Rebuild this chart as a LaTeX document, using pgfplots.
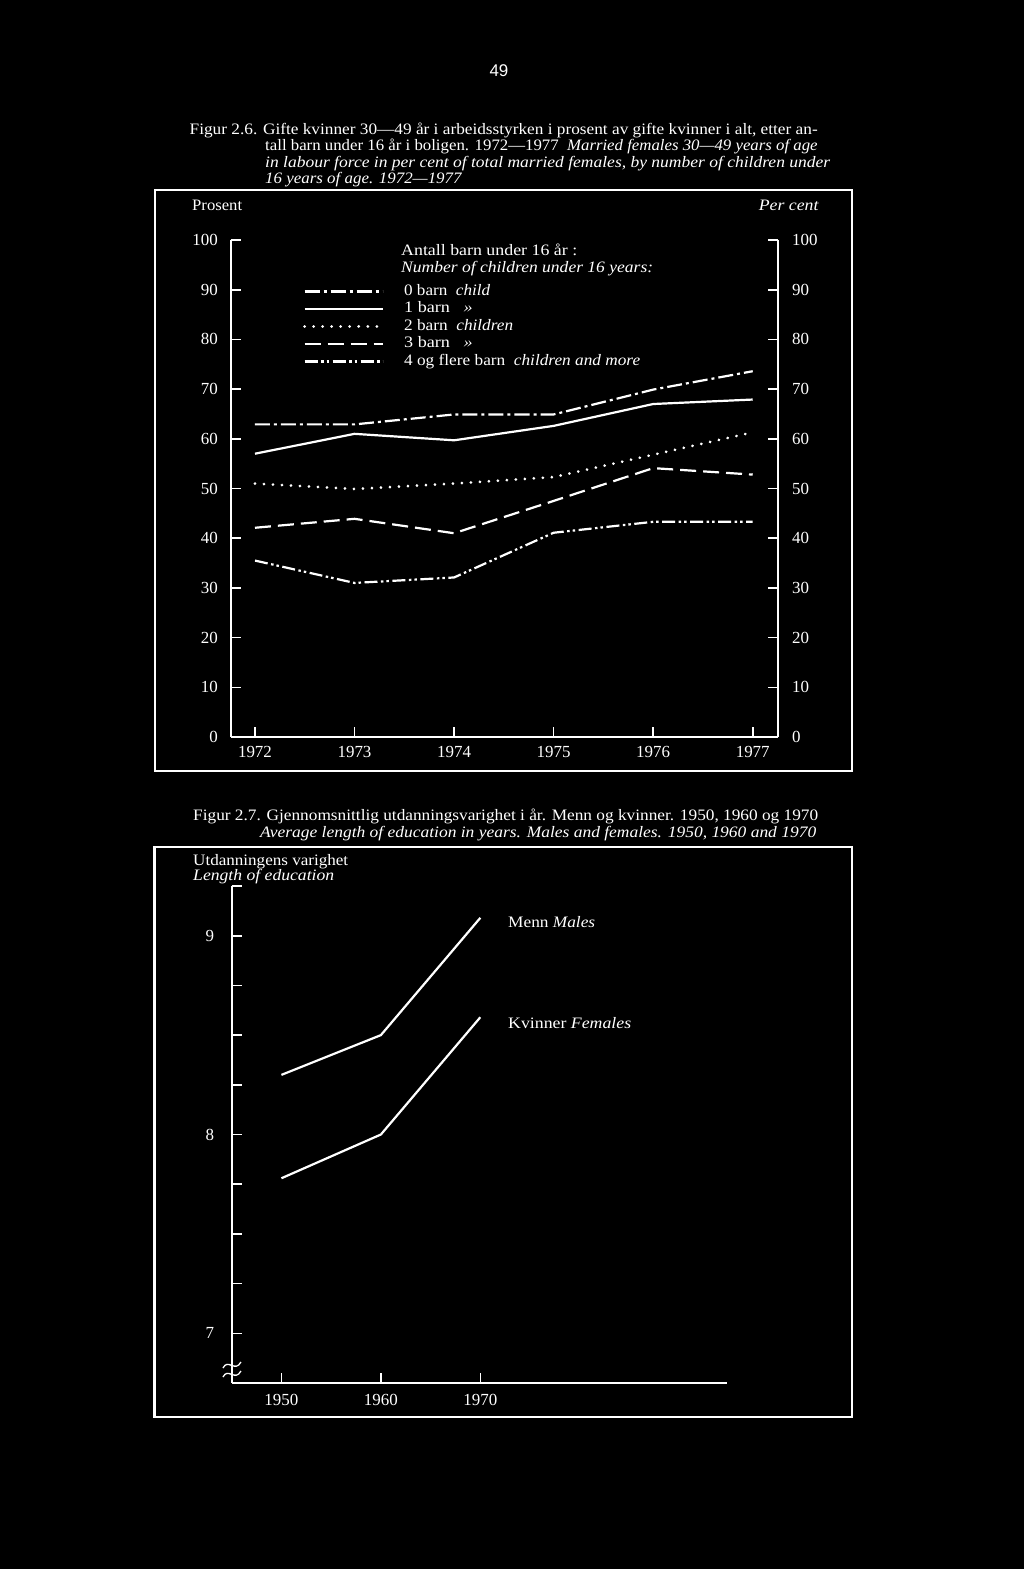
\documentclass[border=0pt]{standalone}
\usepackage{fontspec}
\setmainfont{Liberation Serif}
\newfontfamily\sansf{Liberation Sans}
\usepackage{graphicx}
\usepackage{pgfplots}
\usepackage{pgfplotstable}
\pgfplotsset{compat=1.18}

% scale one line of text horizontally to a given width
\newsavebox\fitbox
\newcommand\fitw[2]{\sbox\fitbox{#2}\pgfmathsetmacro\fitscale{#1/\the\wd\fitbox}\scalebox{\fitscale}[1]{\usebox\fitbox}}

% Figur 2.6: share in labour force, by number of children
\pgfplotstableread{
year b0   b1   b2   b3   b4
1972 62.9 57.0 51.0 42.1 35.5
1973 62.9 61.0 49.9 43.9 31.0
1974 64.9 59.7 51.0 41.0 32.1
1975 64.9 62.6 52.3 47.5 41.1
1976 69.9 67.0 56.8 54.1 43.3
1977 73.6 67.9 61.3 52.8 43.3
}\tabA

% Figur 2.7: length of education
\pgfplotstableread{
year men  women
1950 8.30 7.78
1960 8.50 8.00
1970 9.09 8.59
}\tabB

\pgfplotsset{
  pagestyle/.style={
    scale only axis, clip=false,
    axis line style={white, line width=1.8bp},
    tick style={white, line width=1.6bp},
    major tick length=10bp, minor tick length=10bp,
    tick label style={text=white, font=\fontsize{17}{18}\selectfont, inner sep=0pt},
    /pgf/number format/assume math mode=true,
    /pgf/number format/1000 sep={},
  },
}

\begin{document}
\begin{tikzpicture}
\fill[black] (0,0) rectangle (1024bp,-1569bp);

\begin{scope}[x=1bp, y=-1bp, every node/.style={text=white, inner sep=0pt},
  font=\fontsize{16}{18}\selectfont]
  \node[font=\sansf\fontsize{17}{19}\selectfont] at (499,71) {49};

  % caption 2.6
  \node[anchor=base west] at (189.5,134) {\fitw{628bp}{Figur 2.6. Gifte kvinner 30—49 år i arbeidsstyrken i prosent av gifte kvinner i alt, etter an-}};
  \node[anchor=base west] at (265,150.5) {\fitw{552.5bp}{tall barn under 16 år i boligen. 1972—1977\ \ \textit{Married females 30—49 years of age}}};
  \node[anchor=base west] at (265,167) {\fitw{565bp}{\textit{in labour force in per cent of total married females, by number of children under}}};
  \node[anchor=base west] at (265,183.5) {\fitw{197bp}{\textit{16 years of age. 1972—1977}}};

  \draw[white, line width=2.2bp] (155,190) rectangle (852,771);
  \node[anchor=base west] at (192,210) {\fitw{50bp}{Prosent}};
  \node[anchor=base east] at (819,210) {\fitw{60bp}{\textit{Per cent}}};
  \node[anchor=base west] at (401,255) {\fitw{176bp}{Antall barn under 16 år :}};
  \node[anchor=base west] at (401,272) {\fitw{252bp}{\textit{Number of children under 16 years:}}};

  % caption 2.7
  \node[anchor=base west] at (193,820) {\fitw{625bp}{Figur 2.7. Gjennomsnittlig utdanningsvarighet i år. Menn og kvinner. 1950, 1960 og 1970}};
  \node[anchor=base west] at (260,837) {\fitw{556bp}{\textit{Average length of education in years. Males and females. 1950, 1960 and 1970}}};

  \draw[white, line width=2.2bp] (154.5,847) rectangle (852,1417);
  \node[anchor=base west] at (193,865) {\fitw{155bp}{Utdanningens varighet}};
  \node[anchor=base west] at (193,880) {\fitw{141bp}{\textit{Length of education}}};
  \node[anchor=base west] at (508,927) {\fitw{87bp}{Menn \textit{Males}}};
  \node[anchor=base west] at (508,1028) {\fitw{123bp}{Kvinner \textit{Females}}};

  % axis break
  \draw[white, line width=1.3bp] (223,1368) .. controls (228,1358) and (235,1373) .. (241,1362);
  \draw[white, line width=1.3bp] (223,1377) .. controls (228,1367) and (235,1382) .. (241,1371);
\end{scope}

% ---- Figur 2.6, left axis with data ----
\begin{axis}[pagestyle,
  at={(230.7bp,-737bp)}, anchor=south west,
  width=547.3bp, height=497bp,
  xmin=1971.756, xmax=1977.254, ymin=0, ymax=100,
  axis x line*=bottom, axis y line*=left, tick align=inside,
  xtick={1972,1973,...,1977}, ytick={0,10,...,100},
  yticklabel style={anchor=east, xshift=-12.7bp},
  xticklabel style={anchor=north, yshift=-9bp},
  legend style={at={(axis description cs:0.1266,0.9155)}, anchor=north west,
    draw=none, fill=none, text=white, font=\fontsize{16}{18}\selectfont,
    row sep=3bp, /tikz/column sep=20bp,
    nodes={inner sep=0pt, text height=11bp, text depth=3.5bp}},
  legend cell align=left,
  legend image code/.code={\draw[#1] (0bp,0bp) -- (78bp,0bp);},
]
\addplot[white, line width=2.2bp, dash pattern=on 15bp off 4bp on 3bp off 4bp] table[x=year,y=b0]{\tabA};
\addlegendentry{\fitw{86bp}{0 barn\ \ \textit{child}}}
\addplot[white, line width=2.2bp] table[x=year,y=b1]{\tabA};
\addlegendentry{\fitw{68.5bp}{1 barn\ \ \ \textit{»}}}
\addplot[white, line width=3bp, line cap=round, dash pattern=on 0.01bp off 9bp] table[x=year,y=b2]{\tabA};
\addlegendentry{\fitw{109bp}{2 barn\ \ \textit{children}}}
\addplot[white, line width=2.2bp, dash pattern=on 16bp off 7bp] table[x=year,y=b3]{\tabA};
\addlegendentry{\fitw{68.5bp}{3 barn\ \ \ \textit{»}}}
\addplot[white, line width=2.2bp, dash pattern=on 13bp off 3.5bp on 2.5bp off 3bp on 2.5bp off 3.5bp] table[x=year,y=b4]{\tabA};
\addlegendentry{\fitw{236bp}{4 og flere barn\ \ \textit{children and more}}}
\end{axis}

% ---- Figur 2.6, right axis ----
\begin{axis}[pagestyle,
  at={(230.7bp,-737bp)}, anchor=south west,
  width=547.3bp, height=497bp,
  xmin=1971.756, xmax=1977.254, ymin=0, ymax=100,
  axis x line=none, axis y line*=right, tick align=inside,
  ytick={0,10,...,100},
  yticklabel style={anchor=west, xshift=14bp},
]
\end{axis}

% ---- Figur 2.7 ----
\begin{axis}[pagestyle,
  at={(231.7bp,-1383bp)}, anchor=south west,
  width=495.3bp, height=497bp,
  xmin=1945, xmax=1994.8, ymin=6.75, ymax=9.25,
  axis x line*=bottom, axis y line*=left, tick align=inside,
  xtick={1950,1960,1970}, ytick={7,8,9},
  minor ytick={7.25,7.5,7.75,8.25,8.5,8.75,9.25},
  yticklabel style={anchor=east, xshift=-17.5bp},
  xticklabel style={anchor=north, yshift=-11bp},
]
\addplot[white, line width=2.2bp] table[x=year,y=men]{\tabB};
\addplot[white, line width=2.2bp] table[x=year,y=women]{\tabB};
\end{axis}

\pgfresetboundingbox
\useasboundingbox (0,0) rectangle (1024bp,-1569bp);
\end{tikzpicture}
\end{document}
